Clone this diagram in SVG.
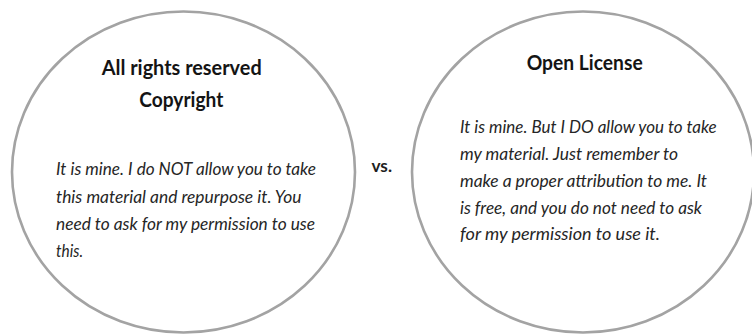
<svg xmlns="http://www.w3.org/2000/svg" width="752" height="336" viewBox="0 0 752 336">
<style>
.circ{fill:#ffffff;stroke:#a3a3a3;stroke-width:2.6}
.head{font-family:Lato,"Open Sans","Liberation Sans",sans-serif;font-weight:bold;font-size:20px;fill:#141414;text-anchor:middle}
.body{font-family:Lato,"Open Sans","Liberation Sans",sans-serif;font-style:italic;font-size:16.5px;fill:#262626}
.vs{font-family:Lato,"Open Sans","Liberation Sans",sans-serif;font-weight:bold;font-size:17px;fill:#1e1e1e}
</style>
<rect width="752" height="336" fill="#ffffff"/>
<g id="connectors"/>
<g id="copyright">
<ellipse class="circ" cx="183.5" cy="172" rx="171.5" ry="160.5"/>
<text class="head" x="181.7" y="75" textLength="160" lengthAdjust="spacingAndGlyphs">All rights reserved</text>
<text class="head" x="181.3" y="106.5" textLength="84" lengthAdjust="spacingAndGlyphs">Copyright</text>
<text class="body" x="56" y="175" textLength="260" lengthAdjust="spacingAndGlyphs">It is mine. I do NOT allow you to take</text>
<text class="body" x="56" y="203" textLength="245.5" lengthAdjust="spacingAndGlyphs">this material and repurpose it. You</text>
<text class="body" x="56" y="230" textLength="259" lengthAdjust="spacingAndGlyphs">need to ask for my permission to use</text>
<text class="body" x="56" y="257" textLength="27" lengthAdjust="spacingAndGlyphs">this.</text>
</g>
<g id="vs">
<text class="vs" x="371.5" y="171.5" textLength="20.5" lengthAdjust="spacingAndGlyphs">vs.</text>
</g>
<g id="open-license">
<ellipse class="circ" cx="583" cy="172" rx="171" ry="160.5"/>
<text class="head" x="584.7" y="70" textLength="116" lengthAdjust="spacingAndGlyphs">Open License</text>
<text class="body" x="460" y="133.3" textLength="256.7" lengthAdjust="spacingAndGlyphs">It is mine. But I DO allow you to take</text>
<text class="body" x="460" y="160" textLength="218" lengthAdjust="spacingAndGlyphs">my material. Just remember to</text>
<text class="body" x="460" y="187" textLength="247" lengthAdjust="spacingAndGlyphs">make a proper attribution to me. It</text>
<text class="body" x="460" y="213.5" textLength="242" lengthAdjust="spacingAndGlyphs">is free, and you do not need to ask</text>
<text class="body" x="460" y="240" textLength="200" lengthAdjust="spacingAndGlyphs">for my permission to use it.</text>
</g>
</svg>
